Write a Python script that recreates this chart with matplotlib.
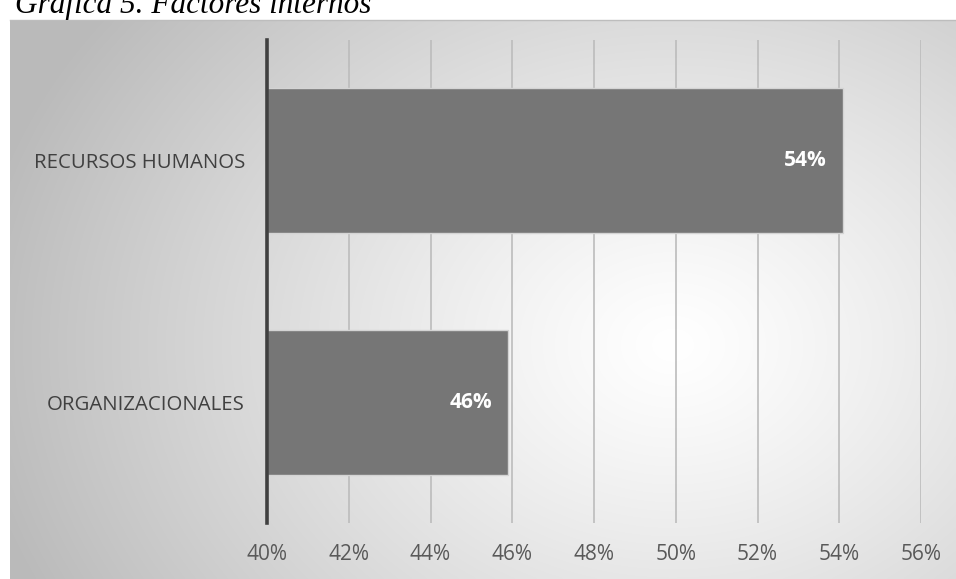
import numpy as np
import matplotlib
matplotlib.use("Agg")
import matplotlib.pyplot as plt

categories = ["ORGANIZACIONALES", "RECURSOS HUMANOS"]
values = [45.9, 54.1]
labels = ["46%", "54%"]
xticks = [40, 42, 44, 46, 48, 50, 52, 54, 56]
title = "Gráfica 5. Factores internos"

W, H = 956, 579
fig = plt.figure(figsize=(W / 100, H / 100), dpi=100)
fig.patch.set_facecolor("white")

# background panel with radial gradient
bx0, by0, bx1, by1 = 10, 20, 956, 579
bg = fig.add_axes([bx0 / W, 1 - by1 / H, (bx1 - bx0) / W, (by1 - by0) / H])
ny, nx = 300, 500
yy, xx = np.mgrid[0:ny, 0:nx]
cx, cy = nx * 0.70, ny * 0.58
r = np.sqrt(((xx - cx) / (nx * 0.75)) ** 2 + ((yy - cy) / (ny * 1.0)) ** 2)
r = np.clip(r, 0, 1)
g = 1.0 - 0.27 * r ** 1.2
bg.imshow(np.dstack([g, g, g]), aspect="auto", extent=[0, 1, 0, 1],
          interpolation="bicubic", origin="upper")
bg.set_xlim(0, 1); bg.set_ylim(0, 1)
bg.axis("off")
fig.add_artist(plt.Line2D([bx0 / W, 1], [1 - by0 / H, 1 - by0 / H], color="#bdbdbd", lw=1))

fig.text(15 / W, 1 - 13 / H, title, fontsize=22.5, family="Liberation Serif",
         style="italic", va="baseline", ha="left", color="black")

ax = fig.add_axes([267 / W, 1 - 523 / H, (921 - 267) / W, (523 - 40) / H])
ax.set_facecolor("none")
ypos = np.arange(len(categories))
ax.barh(ypos, [v - 40 for v in values], left=40, height=0.6, color="#767676",
        edgecolor="#d4d4d4", linewidth=1, zorder=3)
ax.set_xlim(40, 56)
ax.set_ylim(-0.5, 1.5)
ax.set_xticks(xticks)
ax.set_xticklabels([f"{t}%" for t in xticks], fontsize=15, color="#595959", family="Open Sans")
ax.set_yticks(ypos)
ax.set_yticklabels(categories, fontsize=14.7, color="#404040", family="Open Sans")
ax.tick_params(axis="y", length=0, pad=16)
ax.tick_params(axis="x", length=0, pad=15)
ax.grid(axis="x", color="#bcbcbc", lw=1.2, zorder=1)
for s in ["top", "right", "bottom"]:
    ax.spines[s].set_visible(False)
ax.spines["left"].set_color("#404040")
ax.spines["left"].set_linewidth(2.6)
ax.spines["left"].set_zorder(4)

for y, v, lab in zip(ypos, values, labels):
    ax.text(v - 0.4, y, lab, ha="right", va="center", color="white",
            fontsize=15, fontweight="bold", family="Open Sans", zorder=5)

fig.savefig("out.png", dpi=100)
